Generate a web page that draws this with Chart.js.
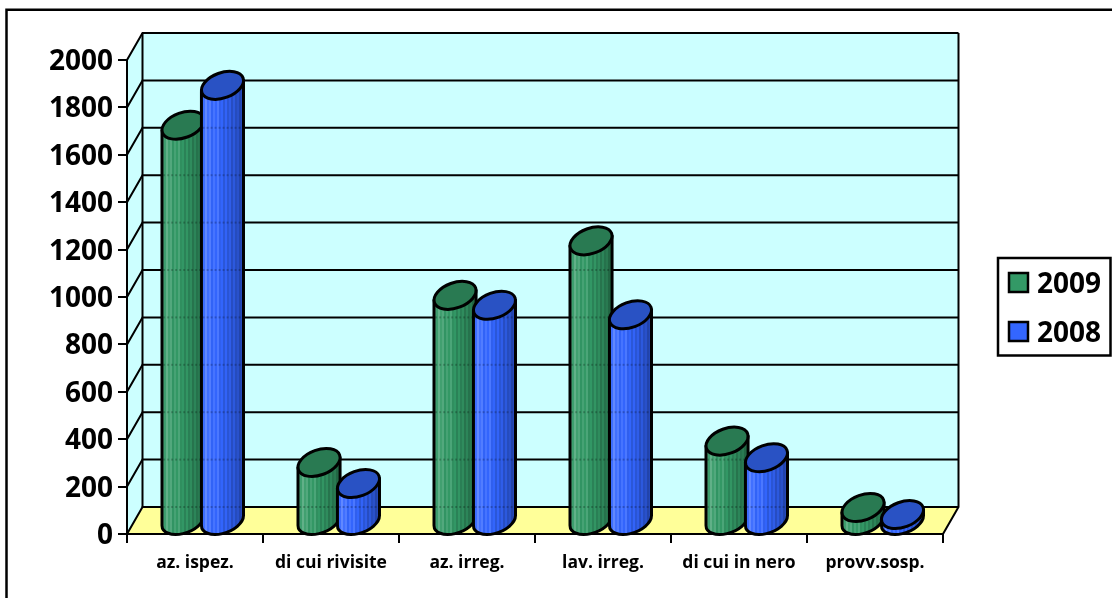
<!DOCTYPE html>
<html>
<head>
<meta charset="utf-8">
<title>chart</title>
<script src="https://cdn.jsdelivr.net/npm/chart.js@4"></script>
<style>
  html, body { margin: 0; padding: 0; background: #fff; }
  canvas { display: block; }
</style>
</head>
<body>
<canvas id="myChart" width="1112" height="598"></canvas>
<script>
const categories = ['az. ispez.', 'di cui rivisite', 'az. irreg.', 'lav. irreg.', 'di cui in nero', 'provv.sosp.'];
const values2009 = [1668, 245, 950, 1180, 335, 55];
const values2008 = [1836, 156, 908, 868, 265, 25];
const yTicks = [0, 200, 400, 600, 800, 1000, 1200, 1400, 1600, 1800, 2000];

// depth of the 3D box, back wall is shifted by this much
const DX = 15.5, DY = -27;
const FONT = '"Open Sans"';

// top face of the cylinders is a tilted ellipse
const RX = 21.9, RY = 12.6, ROT = -20 * Math.PI / 180;
const BODY_X = DX / 2, BODY_Y = DY / 2;

const stripes = [0.10, -0.05, 0.22, 0.02, 0.16, -0.08, 0.12, 0.0, 0.2, -0.04, 0.06, -0.12, 0.08, -0.1, 0.04, -0.16, 0.02, -0.14, -0.04, -0.2, -0.08];

function shade(rgb, k) {
    const c = rgb.map(v => Math.max(0, Math.min(255, Math.round(k >= 0 ? v + (255 - v) * k : v * (1 + k)))));
    return `rgb(${c[0]},${c[1]},${c[2]})`;
}

function drawCylinder(ctx, cx, topY, baseY, base, top, y) {
    const t0 = Math.atan2(-RY * Math.sin(ROT), RX * Math.cos(ROT));
    const extX = RX * Math.cos(t0) * Math.cos(ROT) - RY * Math.sin(t0) * Math.sin(ROT);
    const extY = RX * Math.cos(t0) * Math.sin(ROT) + RY * Math.sin(t0) * Math.cos(ROT);

    const body = new Path2D();
    body.ellipse(cx, baseY, RX, RY, ROT, t0, t0 + Math.PI, false);
    body.lineTo(cx - extX, topY - extY);
    body.lineTo(cx + extX, topY + extY);
    body.closePath();

    // striped body, lighter left and darker right
    const grad = ctx.createLinearGradient(cx - extX, 0, cx + extX, 0);
    stripes.forEach((k, i) => {
        const p = i / stripes.length;
        const falloff = 0.1 - 0.32 * p;
        grad.addColorStop(p, shade(base, k * 0.7 + falloff));
        grad.addColorStop((i + 1) / stripes.length - 0.001, shade(base, k * 0.7 + falloff));
    });
    ctx.fillStyle = grad;
    ctx.fill(body);

    // back wall grid shows through the bars a little
    ctx.save();
    ctx.clip(body);
    ctx.strokeStyle = 'rgba(0,0,0,0.22)';
    ctx.lineWidth = 2;
    ctx.setLineDash([2, 2]);
    yTicks.forEach(v => {
        const py = y.getPixelForValue(v) + DY;
        ctx.beginPath();
        ctx.moveTo(cx - RX - 2, py);
        ctx.lineTo(cx + RX + 2, py);
        ctx.stroke();
    });
    ctx.restore();

    ctx.strokeStyle = '#000';
    ctx.lineWidth = 3;
    ctx.lineJoin = 'round';
    ctx.stroke(body);

    ctx.beginPath();
    ctx.ellipse(cx, topY, RX, RY, ROT, 0, Math.PI * 2);
    ctx.fillStyle = top;
    ctx.fill();
    ctx.stroke();
}

const threeD = {
    id: 'threeD',
    beforeDraw(chart) {
        const { ctx, chartArea: a, scales: { y } } = chart;
        const y0 = y.getPixelForValue(0), yMax = y.getPixelForValue(2000);
        ctx.save();
        ctx.fillStyle = '#fff';
        ctx.fillRect(0, 0, chart.width, chart.height);

        // outer frame, only left and top are inside the picture
        ctx.strokeStyle = '#000';
        ctx.lineWidth = 2.5;
        ctx.beginPath();
        ctx.moveTo(6.5, chart.height);
        ctx.lineTo(6.5, 9.8);
        ctx.lineTo(chart.width, 9.8);
        ctx.stroke();

        // back wall + side wall + floor
        ctx.fillStyle = '#CCFFFF';
        ctx.fillRect(a.left + DX, yMax + DY, a.right - a.left, y0 - yMax);
        ctx.beginPath();
        ctx.moveTo(a.left, y0);
        ctx.lineTo(a.left + DX, y0 + DY);
        ctx.lineTo(a.left + DX, yMax + DY);
        ctx.lineTo(a.left, yMax);
        ctx.closePath();
        ctx.fill();
        ctx.fillStyle = '#FFFF99';
        ctx.beginPath();
        ctx.moveTo(a.left, y0);
        ctx.lineTo(a.left + DX, y0 + DY);
        ctx.lineTo(a.right + DX, y0 + DY);
        ctx.lineTo(a.right, y0);
        ctx.closePath();
        ctx.fill();

        ctx.strokeStyle = '#000';
        ctx.lineWidth = 2;
        yTicks.forEach(v => {
            const py = y.getPixelForValue(v);
            ctx.beginPath();
            ctx.moveTo(a.left, py);
            ctx.lineTo(a.left + DX, py + DY);
            ctx.lineTo(a.right + DX, py + DY);
            ctx.stroke();
        });
        ctx.beginPath();
        ctx.moveTo(a.left + DX, y0 + DY);
        ctx.lineTo(a.left + DX, yMax + DY);
        ctx.moveTo(a.right + DX, yMax + DY);
        ctx.lineTo(a.right + DX, y0 + DY);
        ctx.lineTo(a.right, y0);
        ctx.stroke();
        ctx.restore();
    },
    // native flat bars are replaced by the cylinders
    beforeDatasetDraw() {
        return false;
    },
    afterDatasetsDraw(chart) {
        const { ctx, scales: { y } } = chart;
        const y0 = y.getPixelForValue(0);
        ctx.save();
        categories.forEach((c, i) => {
            chart.data.datasets.forEach((ds, d) => {
                const el = chart.getDatasetMeta(d).data[i];
                drawCylinder(ctx, el.x + BODY_X, el.y + BODY_Y, y0 + BODY_Y, ds.baseRgb, ds.topColor, y);
            });
        });
        ctx.restore();
    },
    afterDraw(chart) {
        // legend box
        const { ctx } = chart;
        ctx.save();
        ctx.fillStyle = '#fff';
        ctx.strokeStyle = '#000';
        ctx.lineWidth = 2.5;
        ctx.fillRect(998, 258, 112.5, 97.5);
        ctx.strokeRect(998, 258, 112.5, 97.5);
        ctx.font = 'bold 28px ' + FONT;
        ctx.textBaseline = 'middle';
        chart.data.datasets.forEach((ds, d) => {
            const ly = 282.5 + d * 49;
            ctx.fillStyle = ds.backgroundColor;
            ctx.lineWidth = 2.5;
            ctx.fillRect(1009, ly - 9.5, 19, 19);
            ctx.strokeRect(1009, ly - 9.5, 19, 19);
            ctx.fillStyle = '#000';
            ctx.fillText(ds.label, 1037, ly + 3);
        });
        ctx.restore();
    }
};

const ctx = document.getElementById('myChart').getContext('2d');

const myChart = new Chart(ctx, {
    type: 'bar',
    data: {
        labels: categories,
        datasets: [
            { label: '2009', data: values2009, backgroundColor: '#339966', baseRgb: [51, 153, 102], topColor: '#297A52' },
            { label: '2008', data: values2008, backgroundColor: '#3366FF', baseRgb: [51, 102, 255], topColor: '#2952C4' }
        ]
    },
    options: {
        responsive: false,
        animation: false,
        categoryPercentage: 0.58,
        barPercentage: 1,
        layout: { padding: { right: 169, top: 60 } },
        plugins: { legend: { display: false }, tooltip: { enabled: false } },
        scales: {
            x: {
                afterFit(s) { s.height = 64; },
                grid: { drawOnChartArea: false, color: '#000', lineWidth: 2, tickLength: 9 },
                border: { color: '#000', width: 2 },
                ticks: { color: '#000', font: { family: FONT, size: 17.5, weight: 'bold' }, maxRotation: 0, padding: 10 }
            },
            y: {
                min: 0,
                max: 2000,
                afterFit(s) { s.width = 127; },
                afterBuildTicks(s) { s.ticks = yTicks.map(v => ({ value: v })); },
                grid: { drawOnChartArea: false, color: '#000', lineWidth: 2, tickLength: 9 },
                border: { color: '#000', width: 2 },
                ticks: { color: '#000', font: { family: FONT, size: 28, weight: 'bold' }, padding: 5, labelOffset: 2, callback: v => String(v) }
            }
        }
    },
    plugins: [threeD]
});
</script>
</body>
</html>
